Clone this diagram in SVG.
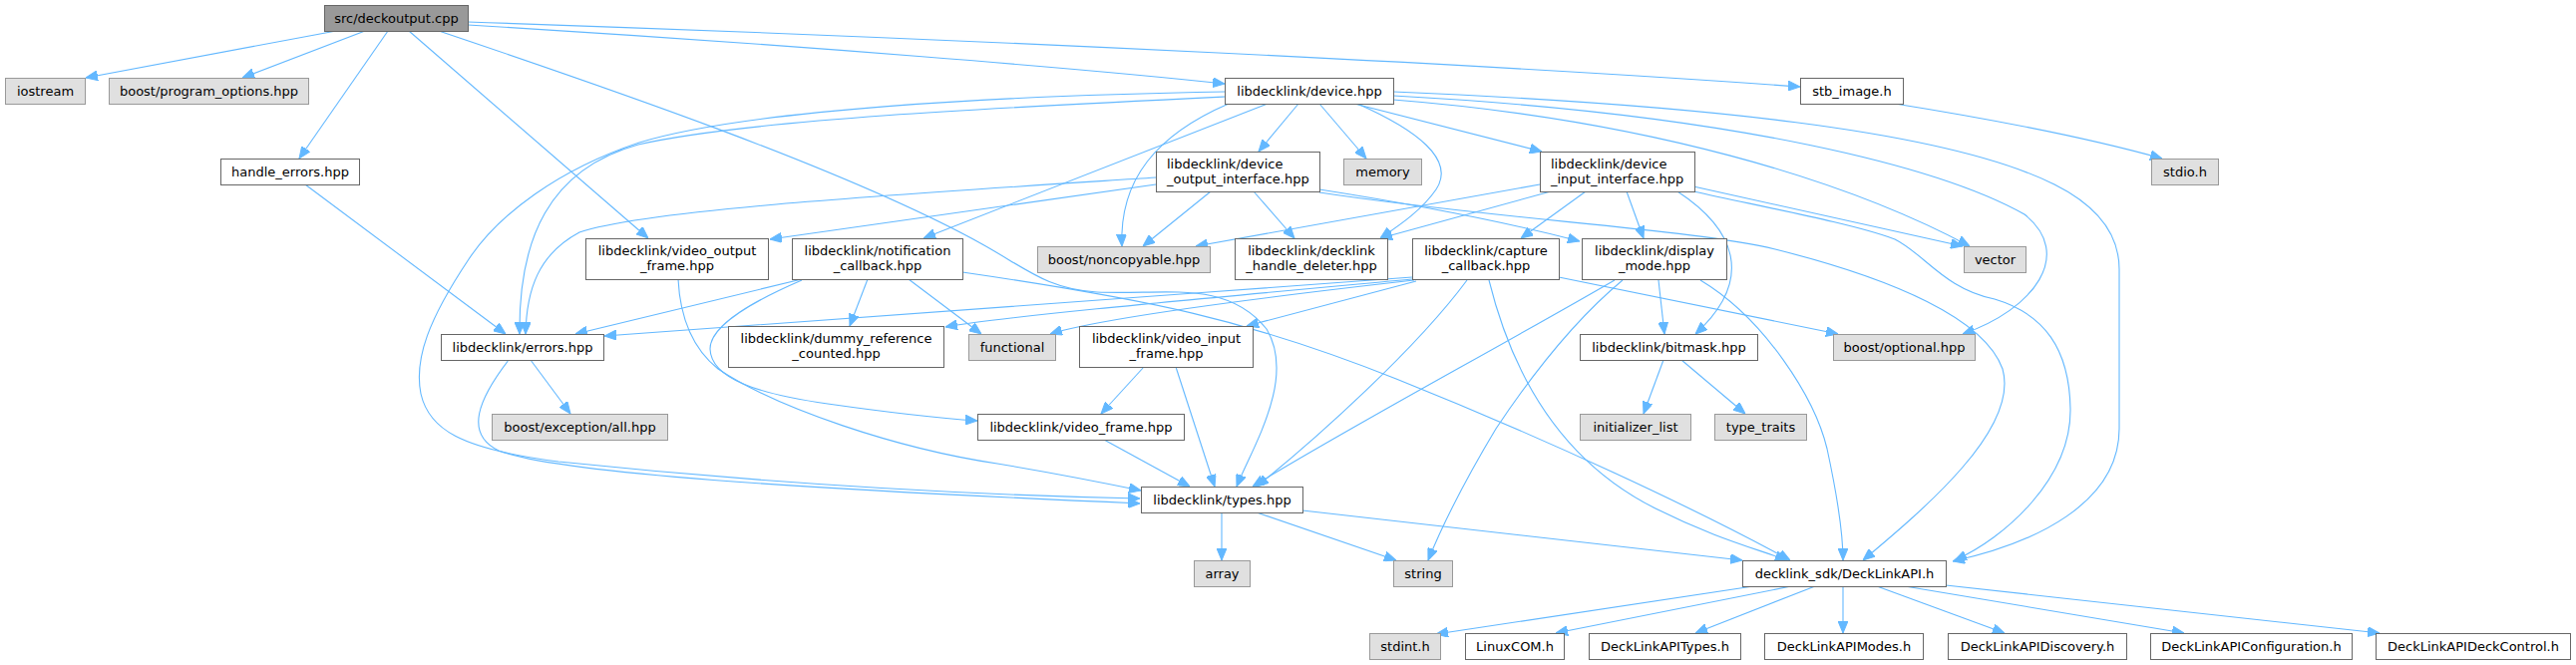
<svg xmlns="http://www.w3.org/2000/svg" width="2583" height="667" viewBox="0 0 2583 667">
<style>
.n rect{fill:#ffffff;stroke:#666666;stroke-width:1}
.x rect{fill:#e0e0e0;stroke:#999999;stroke-width:1}
.r rect{fill:#999999;stroke:#666666;stroke-width:1}
text{font-family:'DejaVu Sans','Liberation Sans',sans-serif;font-size:13px;fill:#000000;text-anchor:middle}
text.l{text-anchor:start}
#edges path{fill:none;stroke:#63b8ff;stroke-width:1.1;marker-end:url(#ah)}
</style>
<defs>
<marker id="ah" markerUnits="userSpaceOnUse" markerWidth="12" markerHeight="10" viewBox="0 0 12 10" refX="12" refY="5" orient="auto">
<path d="M0,0 L12,5 L0,10 z" fill="#63b8ff" stroke="#63b8ff" stroke-width="1"/>
</marker>
</defs>
<rect x="0" y="0" width="2583" height="667" fill="#ffffff"/>
<g id="edges">
<path d="M337,31 L86,78"/>
<path d="M366,31 L243,78"/>
<path d="M389,31 L300,159"/>
<path d="M410,31 L650,239"/>
<path d="M440,31 C600,85 850,170 985,245 C1030,270 1050,290 1100,293 C1170,296 1230,280 1270,330 C1300,380 1255,450 1240,488"/>
<path d="M469,25 C800,45 1100,70 1228,84"/>
<path d="M469,22 C1000,40 1500,65 1805,87"/>
<path d="M1900,104 C2000,120 2100,140 2168,159"/>
<path d="M306,185 L507,335"/>
<path d="M1228,92 C1000,96 750,110 641,143 C560,170 500,215 470,260 C430,320 415,360 422,395 C430,430 460,450 560,463 C800,488 1000,497 1143,500"/>
<path d="M1228,97 C1000,108 750,120 640,145 C550,170 520,240 521,335"/>
<path d="M1271,104 L926,239"/>
<path d="M1232,104 C1160,135 1122,180 1125,247"/>
<path d="M1302,104 L1262,152"/>
<path d="M1323,104 L1370,159"/>
<path d="M1361,104 C1420,130 1460,160 1440,190 C1425,212 1400,228 1384,239"/>
<path d="M1358,104 L1546,152"/>
<path d="M1397,100 C1650,120 1850,180 1975,247"/>
<path d="M1397,96 C1750,115 1950,170 2030,215 C2080,255 2040,310 1968,335"/>
<path d="M1397,92 C1700,105 1950,130 2060,185 C2110,210 2125,240 2125,270 L2125,430 C2125,505 2040,545 1958,563"/>
<path d="M1159,178 C900,195 650,210 581,233 C540,255 528,290 527,335"/>
<path d="M1159,185 L772,240"/>
<path d="M1214,192 L1146,247"/>
<path d="M1257,192 L1298,239"/>
<path d="M1323,190 C1450,210 1530,228 1584,242"/>
<path d="M1323,193 C1500,220 1700,230 1780,250 C1900,280 1990,320 2008,370 C2025,430 1930,510 1868,562"/>
<path d="M1544,185 L1199,247"/>
<path d="M1555,192 L1384,239"/>
<path d="M1590,192 L1525,239"/>
<path d="M1631,192 L1648,239"/>
<path d="M1682,192 C1740,230 1760,280 1700,335"/>
<path d="M1698,187 L1968,247"/>
<path d="M1698,192 C1780,210 1860,225 1900,240 C1930,255 1950,290 2000,300 C2050,315 2075,350 2076,410 C2077,480 2010,540 1960,562"/>
<path d="M804,280 L577,335"/>
<path d="M870,280 L852,327"/>
<path d="M911,280 L984,335"/>
<path d="M965,273 C1150,300 1250,320 1400,380 C1550,440 1700,510 1795,562"/>
<path d="M804,281 C760,300 712,325 712,350 C713,380 760,395 830,405 C900,415 950,420 980,422"/>
<path d="M680,280 C682,320 695,350 720,370 C780,410 900,450 1000,465 C1060,475 1110,485 1144,492"/>
<path d="M1416,278 C1150,298 900,315 606,337"/>
<path d="M1416,280 C1200,300 1000,318 948,328"/>
<path d="M1418,281 C1250,300 1100,320 1053,335"/>
<path d="M1420,282 L1250,327"/>
<path d="M1471,281 C1420,350 1320,440 1260,488"/>
<path d="M1493,281 C1515,370 1560,460 1660,510 C1720,540 1760,550 1792,562"/>
<path d="M1563,278 L1843,335"/>
<path d="M1663,281 L1669,335"/>
<path d="M1619,281 C1500,350 1350,430 1256,488"/>
<path d="M1627,281 C1580,320 1540,370 1500,430 C1470,480 1445,530 1432,562"/>
<path d="M1705,281 C1770,320 1820,400 1832,450 C1845,510 1848,540 1848,562"/>
<path d="M1147,368 L1104,415"/>
<path d="M1179,368 L1218,488"/>
<path d="M1107,441 L1193,488"/>
<path d="M532,361 L572,415"/>
<path d="M510,361 C480,400 465,435 500,452 C560,475 800,490 1143,505"/>
<path d="M1668,361 L1648,415"/>
<path d="M1686,361 L1750,415"/>
<path d="M1225,514 L1225,562"/>
<path d="M1260,514 L1400,562"/>
<path d="M1306,512 C1500,535 1650,550 1747,562"/>
<path d="M1758,588 L1440,636"/>
<path d="M1796,588 L1560,635"/>
<path d="M1820,588 L1700,635"/>
<path d="M1848,588 L1848,635"/>
<path d="M1882,588 L2010,635"/>
<path d="M1910,588 L2190,635"/>
<path d="M1951,587 L2386,635"/>
</g>
<g id="n_src" class="r"><rect x="325.5" y="5.5" width="144" height="26"/><text x="397.5" y="23">src/deckoutput.cpp</text></g>
<g id="n_iostream" class="x"><rect x="5.5" y="78.5" width="80" height="26"/><text x="45.5" y="96">iostream</text></g>
<g id="n_po" class="x"><rect x="109.5" y="78.5" width="200" height="26"/><text x="209.5" y="96">boost/program_options.hpp</text></g>
<g id="n_dev" class="n"><rect x="1228.5" y="78.5" width="169" height="26"/><text x="1313" y="96">libdecklink/device.hpp</text></g>
<g id="n_stb" class="n"><rect x="1805.5" y="78.5" width="103" height="26"/><text x="1857" y="96">stb_image.h</text></g>
<g id="n_he" class="n"><rect x="221.5" y="159.5" width="139" height="26"/><text x="291" y="177">handle_errors.hpp</text></g>
<g id="n_doi" class="n"><rect x="1159.5" y="152.5" width="164" height="40"/><text class="l" x="1170" y="169">libdecklink/device</text><text class="l" x="1170" y="184">_output_interface.hpp</text></g>
<g id="n_mem" class="x"><rect x="1347.5" y="159.5" width="78" height="26"/><text x="1386.5" y="177">memory</text></g>
<g id="n_dii" class="n"><rect x="1544.5" y="152.5" width="155" height="40"/><text class="l" x="1555" y="169">libdecklink/device</text><text class="l" x="1555" y="184">_input_interface.hpp</text></g>
<g id="n_stdio" class="x"><rect x="2157.5" y="159.5" width="67" height="26"/><text x="2191" y="177">stdio.h</text></g>
<g id="n_vof" class="n"><rect x="587.5" y="239.5" width="183" height="41"/><text x="679" y="256">libdecklink/video_output</text><text x="679" y="271">_frame.hpp</text></g>
<g id="n_nc" class="n"><rect x="794.5" y="239.5" width="171" height="41"/><text x="880" y="256">libdecklink/notification</text><text x="880" y="271">_callback.hpp</text></g>
<g id="n_nonc" class="x"><rect x="1040.5" y="247.5" width="173" height="26"/><text x="1127" y="265">boost/noncopyable.hpp</text></g>
<g id="n_hd" class="n"><rect x="1238.5" y="239.5" width="153" height="41"/><text x="1315" y="256">libdecklink/decklink</text><text x="1315" y="271">_handle_deleter.hpp</text></g>
<g id="n_cc" class="n"><rect x="1416.5" y="239.5" width="147" height="41"/><text x="1490" y="256">libdecklink/capture</text><text x="1490" y="271">_callback.hpp</text></g>
<g id="n_dm" class="n"><rect x="1586.5" y="239.5" width="145" height="41"/><text x="1659" y="256">libdecklink/display</text><text x="1659" y="271">_mode.hpp</text></g>
<g id="n_vec" class="x"><rect x="1969.5" y="247.5" width="62" height="26"/><text x="2000.5" y="265">vector</text></g>
<g id="n_err" class="n"><rect x="442.5" y="335.5" width="163" height="26"/><text x="524" y="353">libdecklink/errors.hpp</text></g>
<g id="n_drc" class="n"><rect x="730.5" y="327.5" width="216" height="41"/><text x="838.5" y="344">libdecklink/dummy_reference</text><text x="838.5" y="359">_counted.hpp</text></g>
<g id="n_func" class="x"><rect x="971.5" y="335.5" width="87" height="26"/><text x="1015" y="353">functional</text></g>
<g id="n_vif" class="n"><rect x="1082.5" y="327.5" width="174" height="41"/><text x="1169.5" y="344">libdecklink/video_input</text><text x="1169.5" y="359">_frame.hpp</text></g>
<g id="n_bm" class="n"><rect x="1584.5" y="335.5" width="178" height="26"/><text x="1673.5" y="353">libdecklink/bitmask.hpp</text></g>
<g id="n_opt" class="x"><rect x="1838.5" y="335.5" width="142" height="26"/><text x="1909.5" y="353">boost/optional.hpp</text></g>
<g id="n_exc" class="x"><rect x="493.5" y="415.5" width="176" height="26"/><text x="581.5" y="433">boost/exception/all.hpp</text></g>
<g id="n_vf" class="n"><rect x="980.5" y="415.5" width="207" height="26"/><text x="1084" y="433">libdecklink/video_frame.hpp</text></g>
<g id="n_il" class="x"><rect x="1584.5" y="415.5" width="111" height="26"/><text x="1640" y="433">initializer_list</text></g>
<g id="n_tt" class="x"><rect x="1719.5" y="415.5" width="92" height="26"/><text x="1765.5" y="433">type_traits</text></g>
<g id="n_types" class="n"><rect x="1144.5" y="488.5" width="162" height="26"/><text x="1225.5" y="506">libdecklink/types.hpp</text></g>
<g id="n_array" class="x"><rect x="1197.5" y="562.5" width="56" height="26"/><text x="1225.5" y="580">array</text></g>
<g id="n_string" class="x"><rect x="1397.5" y="562.5" width="59" height="26"/><text x="1427" y="580">string</text></g>
<g id="n_api" class="n"><rect x="1747.5" y="562.5" width="204" height="26"/><text x="1849.5" y="580">decklink_sdk/DeckLinkAPI.h</text></g>
<g id="n_stdint" class="x"><rect x="1373.5" y="635.5" width="71" height="26"/><text x="1409" y="653">stdint.h</text></g>
<g id="n_lcom" class="n"><rect x="1469.5" y="635.5" width="99" height="26"/><text x="1519" y="653">LinuxCOM.h</text></g>
<g id="n_apitypes" class="n"><rect x="1593.5" y="635.5" width="152" height="26"/><text x="1669.5" y="653">DeckLinkAPITypes.h</text></g>
<g id="n_modes" class="n"><rect x="1769.5" y="635.5" width="159" height="26"/><text x="1849" y="653">DeckLinkAPIModes.h</text></g>
<g id="n_disc" class="n"><rect x="1953.5" y="635.5" width="179" height="26"/><text x="2043" y="653">DeckLinkAPIDiscovery.h</text></g>
<g id="n_conf" class="n"><rect x="2156.5" y="635.5" width="202" height="26"/><text x="2257.5" y="653">DeckLinkAPIConfiguration.h</text></g>
<g id="n_dc" class="n"><rect x="2382.5" y="635.5" width="195" height="26"/><text x="2480" y="653">DeckLinkAPIDeckControl.h</text></g>
</svg>
